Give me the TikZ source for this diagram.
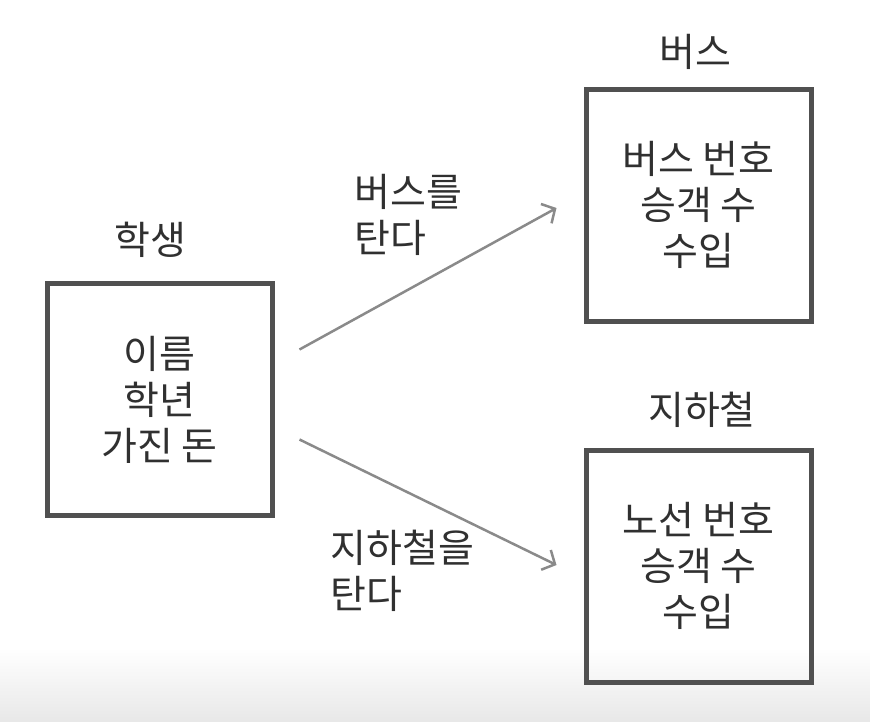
\documentclass[tikz,border=0pt]{standalone}
\usepackage{fontspec}
\setmainfont{Noto Sans CJK KR}
\usetikzlibrary{arrows.meta,calc}
\definecolor{boxgray}{HTML}{505050}
\definecolor{arrowgray}{HTML}{8A8A8A}
\definecolor{textgray}{HTML}{303030}
\tikzset{
  entity/.style={draw=boxgray, line width=5pt, minimum width=225pt, minimum height=232pt,
    align=center, text=textgray, font=\fontsize{39}{46}\selectfont},
  title/.style={text=textgray, font=\fontsize{39}{46}\selectfont},
  relation/.style={draw=arrowgray, line width=2.5pt, -{Straight Barb[length=10pt,width=22pt,line width=2.5pt]}},
}
\begin{document}
\begin{tikzpicture}[x=1pt,y=-1pt]
  \useasboundingbox (0,0) rectangle (870,721);
  % soft grey band at the bottom
  \shade[top color=white, bottom color=black!9] (0,648) rectangle (870,721);

  % Student
  \node[entity] (student) at (159.5,399.5) {이름\\학년\\가진 돈};
  \node[title] (studentname) at (150,240) {학생};

  % Bus
  \node[entity] (bus) at (698.5,205) {버스 번호\\승객 수\\수입};
  \node[title] (busname) at (695,52) {버스};

  % Subway
  \node[entity] (subway) at (698.5,566) {노선 번호\\승객 수\\수입};
  \node[title] (subwayname) at (702,410) {지하철};

  % arrow ends
  \coordinate (busout) at ($(student.east)+(25,-50)$);
  \coordinate (subwayout) at ($(student.east)+(25,40)$);
  \coordinate (busin) at ($(bus.west)+(-27,3)$);
  \coordinate (subwayin) at ($(subway.west)+(-27,-1)$);

  \draw[relation] (busout) -- (busin);
  \draw[relation] (subwayout) -- (subwayin);

  \node[title, align=left, anchor=west] (ridebus) at (351,215) {버스를\\탄다};
  \node[title, align=left, anchor=west] (ridesubway) at (327,571) {지하철을\\탄다};
\end{tikzpicture}
\end{document}
